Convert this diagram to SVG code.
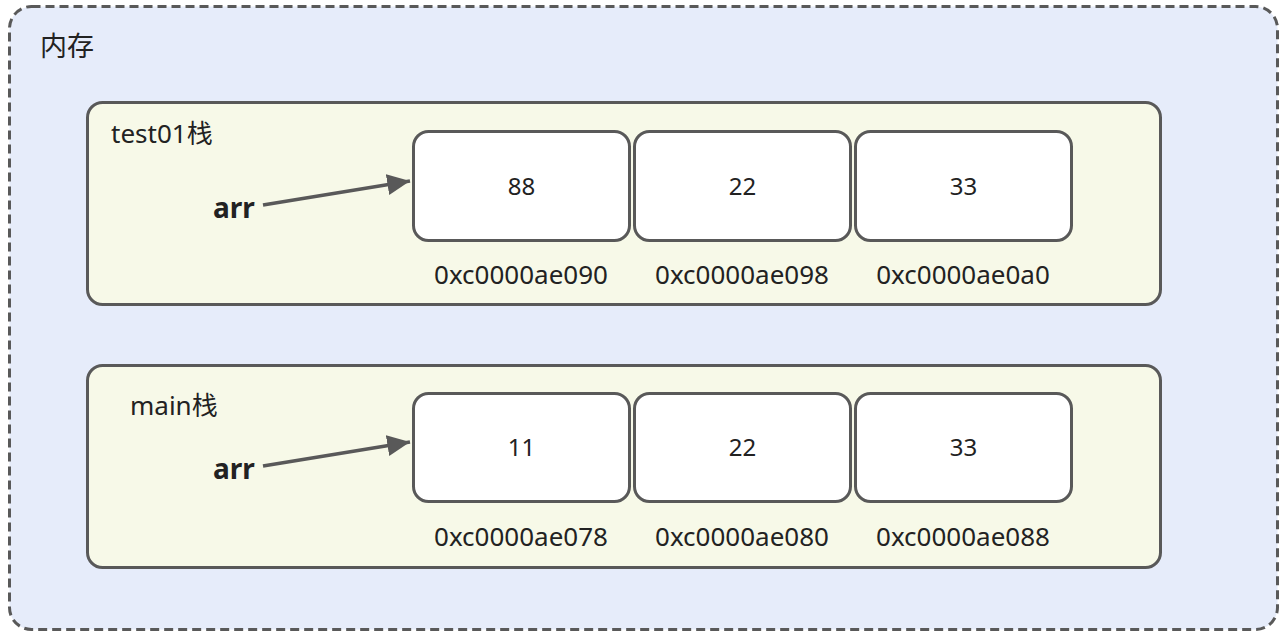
<svg xmlns="http://www.w3.org/2000/svg" width="1288" height="635" viewBox="0 0 1288 635">
<defs>
<style>
.t{font-family:"Noto Sans","Noto Sans CJK SC",sans-serif;fill:#222;}
.panel{fill:#f7f9e8;stroke:#595959;stroke-width:3;}
.cell{fill:#ffffff;stroke:#595959;stroke-width:3;}
.addr{font-size:26px;text-anchor:middle;}
.num{font-size:24px;text-anchor:middle;}
.arr{font-size:28px;font-weight:bold;}
.conn{stroke:#595959;stroke-width:3.5;fill:none;marker-end:url(#ah);}
</style>
<marker id="ah" markerWidth="8" markerHeight="8" refX="6.5" refY="3" orient="auto" markerUnits="strokeWidth">
<path d="M0,0 L6.5,3 L0,6 Z" fill="#595959"/>
</marker>
</defs>
<rect width="1288" height="635" fill="#ffffff"/>
<g id="memory">
<rect x="9.5" y="6.5" width="1268" height="623" rx="22" fill="#e6ecfa" stroke="#595959" stroke-width="3" stroke-dasharray="9 5"/>
<text class="t" x="40" y="56" font-size="27">内存</text>
</g>
<g id="test01">
<rect class="panel" x="87.5" y="102.5" width="1073" height="202" rx="15"/>
<text class="t" x="111" y="143" font-size="26">test01栈</text>
<text class="t arr" x="213" y="218">arr</text>
</g>
<g id="t-cell0"><rect class="cell" x="413.5" y="131.5" width="216" height="109" rx="15"/><text class="t num" x="521.5" y="195">88</text><text class="t addr" x="521" y="284">0xc0000ae090</text></g>
<g id="t-cell1"><rect class="cell" x="634.5" y="131.5" width="216" height="109" rx="15"/><text class="t num" x="742.5" y="195">22</text><text class="t addr" x="742" y="284">0xc0000ae098</text></g>
<g id="t-cell2"><rect class="cell" x="855.5" y="131.5" width="216" height="109" rx="15"/><text class="t num" x="963.5" y="195">33</text><text class="t addr" x="963" y="284">0xc0000ae0a0</text></g>
<g id="main">
<rect class="panel" x="87.5" y="365.5" width="1073" height="202" rx="15"/>
<text class="t" x="130" y="415" font-size="26">main栈</text>
<text class="t arr" x="213" y="479">arr</text>
</g>
<g id="m-cell0"><rect class="cell" x="413.5" y="393.5" width="216" height="108" rx="15"/><text class="t num" x="521.5" y="456">11</text><text class="t addr" x="521" y="546">0xc0000ae078</text></g>
<g id="m-cell1"><rect class="cell" x="634.5" y="393.5" width="216" height="108" rx="15"/><text class="t num" x="742.5" y="456">22</text><text class="t addr" x="742" y="546">0xc0000ae080</text></g>
<g id="m-cell2"><rect class="cell" x="855.5" y="393.5" width="216" height="108" rx="15"/><text class="t num" x="963.5" y="456">33</text><text class="t addr" x="963" y="546">0xc0000ae088</text></g>
<g id="connectors">
<path class="conn" d="M263,205 L410,181"/>
<path class="conn" d="M263,466 L410,442"/>
</g>
</svg>
